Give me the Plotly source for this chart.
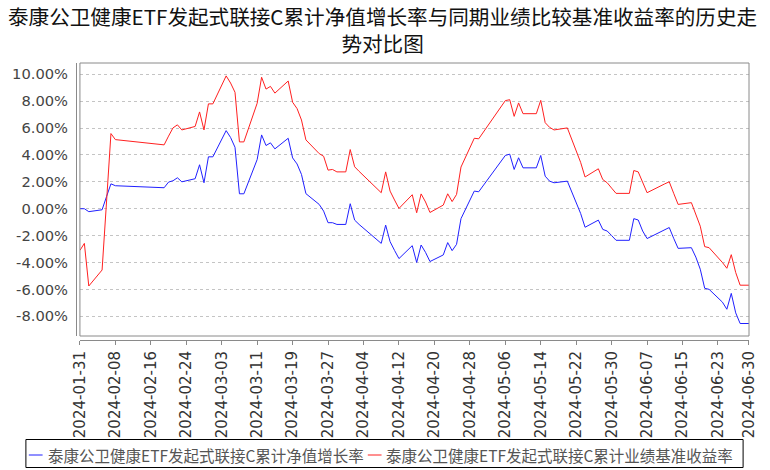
import plotly.graph_objects as go

# ---------------- data ----------------
dates = [
    "2024-01-31", "2024-02-01", "2024-02-02", "2024-02-05", "2024-02-06", "2024-02-07", "2024-02-08",
    "2024-02-19", "2024-02-20", "2024-02-21", "2024-02-22", "2024-02-23",
    "2024-02-26", "2024-02-27", "2024-02-28", "2024-02-29", "2024-03-01",
    "2024-03-04", "2024-03-05", "2024-03-06", "2024-03-07", "2024-03-08",
    "2024-03-11", "2024-03-12", "2024-03-13", "2024-03-14", "2024-03-15",
    "2024-03-18", "2024-03-19", "2024-03-20", "2024-03-21", "2024-03-22",
    "2024-03-25", "2024-03-26", "2024-03-27", "2024-03-28", "2024-03-29", "2024-03-31",
    "2024-04-01", "2024-04-02", "2024-04-03",
    "2024-04-08", "2024-04-09", "2024-04-10", "2024-04-11", "2024-04-12",
    "2024-04-15", "2024-04-16", "2024-04-17", "2024-04-18", "2024-04-19",
    "2024-04-22", "2024-04-23", "2024-04-24", "2024-04-25", "2024-04-26",
    "2024-04-29", "2024-04-30",
    "2024-05-06", "2024-05-07", "2024-05-08", "2024-05-09", "2024-05-10",
    "2024-05-13", "2024-05-14", "2024-05-15", "2024-05-16", "2024-05-17",
    "2024-05-20", "2024-05-21", "2024-05-22", "2024-05-23", "2024-05-24",
    "2024-05-27", "2024-05-28", "2024-05-29", "2024-05-30", "2024-05-31",
    "2024-06-03", "2024-06-04", "2024-06-05", "2024-06-06", "2024-06-07",
    "2024-06-11", "2024-06-12", "2024-06-13", "2024-06-14",
    "2024-06-17", "2024-06-18", "2024-06-19", "2024-06-20", "2024-06-21",
    "2024-06-24", "2024-06-25", "2024-06-26", "2024-06-27", "2024-06-28", "2024-06-30",
]

nav_growth = [
    0.00, 0.00, -0.22, -0.08, 0.90, 1.85, 1.71,
    1.56, 1.98, 2.08, 2.30, 2.00,
    2.23, 3.27, 1.93, 3.86, 3.86,
    5.81, 5.30, 4.57, 1.11, 1.11,
    3.66, 5.49, 4.70, 4.90, 4.45,
    5.24, 3.78, 3.33, 2.55, 1.12,
    0.32, -0.18, -1.04, -1.04, -1.17, -1.17,
    0.37, -0.85, -1.17,
    -2.58, -1.22, -2.45, -3.10, -3.71,
    -2.75, -4.00, -2.70, -3.25, -3.93,
    -3.44, -2.52, -3.12, -2.65, -0.74,
    1.31, 1.26,
    3.96, 4.06, 2.92, 3.79, 3.04,
    3.04, 3.96, 2.42, 2.05, 1.93,
    2.05, 1.25, 0.45, -0.35, -1.38,
    -0.85, -1.54, -1.66, -2.00, -2.35,
    -2.35, -0.74, -0.84, -1.66, -2.22,
    -1.60, -1.40, -2.20, -2.95,
    -2.90, -3.60, -4.50, -5.92, -6.00,
    -6.95, -7.48, -6.30, -7.75, -8.54, -8.54,
]

benchmark = [
    -3.10, -2.58, -5.75, -4.56, 0.50, 5.59, 5.14,
    4.75, 5.40, 6.01, 6.24, 5.86,
    6.12, 7.20, 5.86, 7.80, 7.80,
    9.88, 9.35, 8.66, 4.97, 4.97,
    7.85, 9.78, 8.90, 9.10, 8.60,
    9.50, 7.92, 7.45, 6.60, 5.12,
    4.10, 3.90, 2.87, 2.92, 2.74, 2.74,
    4.40, 3.12, 2.78,
    1.19, 2.74, 1.31, 0.65, 0.02,
    1.04, -0.30, 1.10, 0.50, -0.28,
    0.27, 1.11, 0.53, 1.06, 3.10,
    5.24, 5.20,
    8.04, 8.11, 6.87, 7.87, 7.07,
    7.07, 8.06, 6.40, 6.05, 5.86,
    6.01, 5.17, 4.42, 3.45, 2.36,
    2.97, 2.17, 1.93, 1.53, 1.14,
    1.14, 2.84, 2.74, 1.93, 1.19,
    1.85, 2.00, 1.15, 0.32,
    0.45, -0.40, -1.30, -2.82, -2.90,
    -4.00, -4.43, -3.42, -4.75, -5.69, -5.69,
]

x_tick_labels = [
    "2024-01-31", "2024-02-08", "2024-02-16", "2024-02-24", "2024-03-03",
    "2024-03-11", "2024-03-19", "2024-03-27", "2024-04-04", "2024-04-12",
    "2024-04-20", "2024-04-28", "2024-05-06", "2024-05-14", "2024-05-22",
    "2024-05-30", "2024-06-07", "2024-06-15", "2024-06-23", "2024-06-30",
]
y_tick_values = [-8, -6, -4, -2, 0, 2, 4, 6, 8, 10]
y_tick_labels = ["-8.00%", "-6.00%", "-4.00%", "-2.00%", "0.00%",
                 "2.00%", "4.00%", "6.00%", "8.00%", "10.00%"]

series_names = [
    "泰康公卫健康ETF发起式联接C累计净值增长率",
    "泰康公卫健康ETF发起式联接C累计业绩基准收益率",
]
title_lines = [
    "泰康公卫健康ETF发起式联接C累计净值增长率与同期业绩比较基准收益率的历史走",
    "势对比图",
]

# ---------------- layout geometry (pixels) ----------------
W, H = 770, 470
AREA_L, AREA_R, AREA_T, AREA_B = 73, 758, 63, 340   # region incl. offset axis lines
DATA_L, DATA_B = 77, 336                             # data frame left / bottom
area_w = AREA_R - AREA_L
area_h = AREA_B - AREA_T


def px(xp):
    return (xp - AREA_L) / area_w


def py(yp):
    return (AREA_B - yp) / area_h


BLUE = "#2020ff"
RED = "#ff2020"
AXIS_GRAY = "#8a8a8a"
CJK = "Noto Sans CJK SC"

fig = go.Figure()
fig.add_trace(go.Scatter(x=dates, y=nav_growth, mode="lines", name=series_names[0],
                         line=dict(color=BLUE, width=1)))
fig.add_trace(go.Scatter(x=dates, y=benchmark, mode="lines", name=series_names[1],
                         line=dict(color=RED, width=1)))

fig.update_layout(
    width=W, height=H,
    margin=dict(l=AREA_L, r=W - AREA_R, t=AREA_T, b=H - AREA_B, pad=0),
    paper_bgcolor="white", plot_bgcolor="white",
    showlegend=False,
)

fig.update_xaxes(
    type="date", range=[dates[0], "2024-06-30"],
    domain=[px(DATA_L), 1], anchor="free", position=0,
    tickvals=x_tick_labels, ticktext=x_tick_labels, tickangle=-90,
    ticks="outside", ticklen=4, tickcolor=AXIS_GRAY, tickwidth=1,
    showline=True, linecolor=AXIS_GRAY, linewidth=1,
    showgrid=False, zeroline=False,
    tickfont=dict(family="DejaVu Sans", size=15, color="#333333"),
)
fig.update_yaxes(
    range=[-9.47, 10.84], domain=[py(DATA_B), 1], anchor="free", position=0,
    tickvals=y_tick_values, ticktext=y_tick_labels,
    ticks="", showline=True, linecolor=AXIS_GRAY, linewidth=1,
    showgrid=True, gridcolor="#c4c4c4", gridwidth=1, griddash="3px,3px",
    zeroline=False, ticklabelstandoff=5,
    tickfont=dict(family="DejaVu Sans", size=14.7, color="#444444"),
)

shapes = [
    # plot frame
    dict(type="rect", xref="x domain", yref="y domain", x0=0, x1=1, y0=0, y1=1,
         line=dict(color=AXIS_GRAY, width=1), layer="above"),
    # legend box
    dict(type="rect", xref="paper", yref="paper", x0=px(22), x1=px(752), y0=py(467.5), y1=py(439.5),
         line=dict(color="#000000", width=1)),
    dict(type="line", xref="paper", yref="paper", x0=px(25), x1=px(39), y0=py(455), y1=py(455),
         line=dict(color=BLUE, width=1)),
    dict(type="line", xref="paper", yref="paper", x0=px(370), x1=px(384), y0=py(455), y1=py(455),
         line=dict(color=RED, width=1)),
]

annotations = [
    dict(text="<br>".join(title_lines), xref="paper", yref="paper", x=px(385), y=py(29),
         xanchor="center", yanchor="middle", showarrow=False, align="center",
         font=dict(family=CJK, size=20.6, color="#111111")),
    dict(text=series_names[0], xref="paper", yref="paper", x=px(42), y=py(455),
         xanchor="left", yanchor="middle", showarrow=False,
         font=dict(family=CJK, size=15.5, color="#555555")),
    dict(text=series_names[1], xref="paper", yref="paper", x=px(387), y=py(455),
         xanchor="left", yanchor="middle", showarrow=False,
         font=dict(family=CJK, size=15.5, color="#555555")),
]
fig.update_layout(shapes=shapes, annotations=annotations)

fig.write_html("out.html", config={"displayModeBar": False},
               post_script="document.body.style.margin='0px';")
